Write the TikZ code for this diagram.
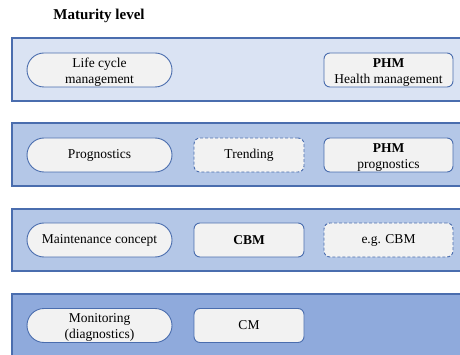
\documentclass[tikz,border=0pt]{standalone}
\usepackage{fontspec}
\setmainfont{Liberation Serif}
\definecolor{bandA}{HTML}{DAE3F3}
\definecolor{bandB}{HTML}{B4C7E7}
\definecolor{bandC}{HTML}{8FAADC}
\definecolor{edgeblue}{HTML}{4A6DAE}
\definecolor{pillfill}{HTML}{F2F2F2}
% taller first line pushes two-line labels slightly downwards
\newcommand{\toprow}{\rule{0pt}{13pt}}
\begin{document}
\begin{tikzpicture}[x=1pt,y=-1pt,
  every node/.style={font=\fontsize{13.5}{16}\selectfont, align=center, inner sep=0pt},
  band/.style={draw=edgeblue, line width=1.1pt},
  pill/.style={draw=edgeblue, fill=pillfill, line width=0.9pt, rounded corners=17pt,
               minimum width=145pt, minimum height=34pt},
  tile/.style={draw=edgeblue, fill=pillfill, line width=0.9pt, rounded corners=6pt,
               minimum height=34pt},
  dtile/.style={tile, dash pattern=on 3pt off 2pt}
]
\useasboundingbox (0,0) rectangle (460,355);

% horizontal maturity bands, running off the right and bottom edges
\begin{scope}
  \clip (0,0) rectangle (460,355);
  \draw[band, fill=bandA] (12,38)  rectangle (475,101);
  \draw[band, fill=bandB] (12,123) rectangle (475,186);
  \draw[band, fill=bandB] (12,209) rectangle (475,271);
  \draw[band, fill=bandC] (12,294) rectangle (475,380);
\end{scope}

\node[font=\fontsize{15}{18}\selectfont\bfseries] (title) at (99,16) {Maturity level};

% level 4
\node[pill] (lcm) at (99.5,70) {\toprow Life cycle\\management};
\node[tile, minimum width=129pt] (phmh) at (388.5,70) {\toprow\textbf{PHM}\\Health management};

% level 3
\node[pill] (prog) at (99.5,155) {Prognostics};
\node[dtile, minimum width=110pt] (trend) at (249,155) {Trending};
\node[tile, minimum width=129pt] (phmp) at (388.5,155) {\toprow\textbf{PHM}\\prognostics};

% level 2
\node[pill] (mc) at (99.5,240) {Maintenance concept};
\node[tile, minimum width=110pt] (cbm) at (249,240) {\textbf{CBM}};
\node[dtile, minimum width=129pt] (egcbm) at (388.5,240) {e.g. CBM};

% level 1
\node[pill] (mon) at (99.5,325.5) {\toprow Monitoring\\(diagnostics)};
\node[tile, minimum width=110pt] (cm) at (249,325.5) {CM};
\end{tikzpicture}
\end{document}
